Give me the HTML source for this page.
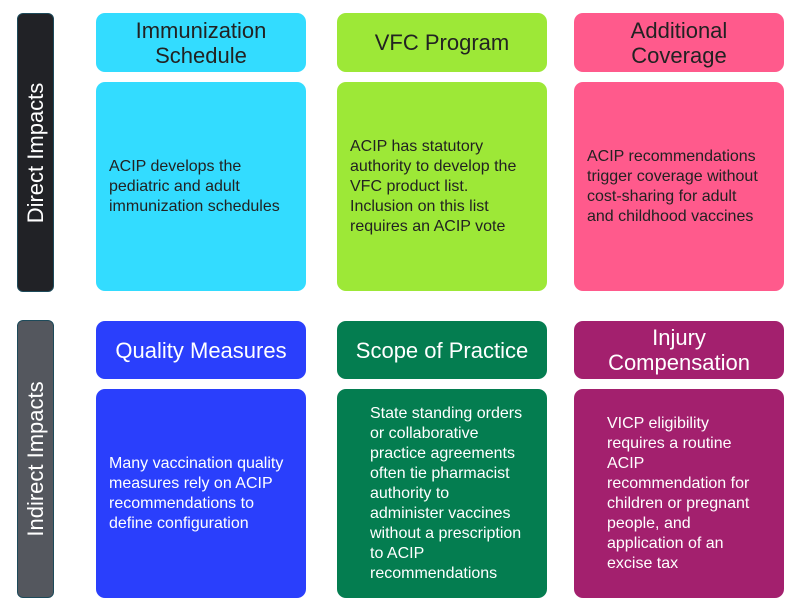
<!DOCTYPE html>
<html><head><meta charset="utf-8"><style>
body{margin:0;width:800px;height:615px;background:#fff;position:relative;overflow:hidden;font-family:"Liberation Sans",sans-serif}
.b{position:absolute;box-sizing:border-box;border-radius:9px;display:flex;align-items:center}
.h{justify-content:center;text-align:center;font-size:22px;line-height:25px}
.t{font-size:16px;line-height:20px;padding:0 13px}
.t div{width:var(--w)}
.side{position:absolute;left:17px;width:37px;border-radius:6px;border:1px solid #1d4a5a;box-sizing:border-box}
.side span{position:absolute;left:50%;top:50%;transform:translate(-50%,-50%) rotate(-90deg);white-space:nowrap;color:#fff;font-size:22px}
</style></head><body>
<div class="side" style="top:13px;height:279px;background:#212226"><span>Direct Impacts</span></div>
<div class="side" style="top:320px;height:278px;background:#54575e"><span>Indirect Impacts</span></div>

<div class="b h" style="left:96px;top:13px;width:210px;height:59px;background:#33dcff;color:#222">Immunization<br>Schedule</div>
<div class="b h" style="left:337px;top:13px;width:210px;height:59px;background:#9de837;color:#222">VFC Program</div>
<div class="b h" style="left:574px;top:13px;width:210px;height:59px;background:#ff5a8c;color:#222">Additional<br>Coverage</div>

<div class="b t" style="left:96px;top:82px;width:210px;height:209px;background:#33dcff;color:#222"><div style="--w:182px">ACIP develops the pediatric and adult immunization schedules</div></div>
<div class="b t" style="left:337px;top:82px;width:210px;height:209px;background:#9de837;color:#222"><div style="--w:176px">ACIP has statutory authority to develop the VFC product list. Inclusion on this list requires an ACIP vote</div></div>
<div class="b t" style="left:574px;top:82px;width:210px;height:209px;background:#ff5a8c;color:#222"><div style="--w:180px">ACIP recommendations trigger coverage without cost-sharing for adult and childhood vaccines</div></div>

<div class="b h" style="left:96px;top:321px;width:210px;height:58px;background:#2a3ffc;color:#fff">Quality Measures</div>
<div class="b h" style="left:337px;top:321px;width:210px;height:58px;background:#047d50;color:#fff">Scope of Practice</div>
<div class="b h" style="left:574px;top:321px;width:210px;height:58px;background:#a3206e;color:#fff">Injury<br>Compensation</div>

<div class="b t" style="left:96px;top:389px;width:210px;height:209px;background:#2a3ffc;color:#fff"><div style="--w:184px">Many vaccination quality measures rely on ACIP recommendations to define configuration</div></div>
<div class="b t" style="left:337px;top:389px;width:210px;height:209px;background:#047d50;color:#fff;padding-left:33px"><div style="--w:155px">State standing orders or collaborative practice agreements often tie pharmacist authority to administer vaccines without a prescription to ACIP recommendations</div></div>
<div class="b t" style="left:574px;top:389px;width:210px;height:209px;background:#a3206e;color:#fff;padding-left:33px"><div style="--w:150px">VICP eligibility requires a routine ACIP recommendation for children or pregnant people, and application of an excise tax</div></div>
</body></html>
